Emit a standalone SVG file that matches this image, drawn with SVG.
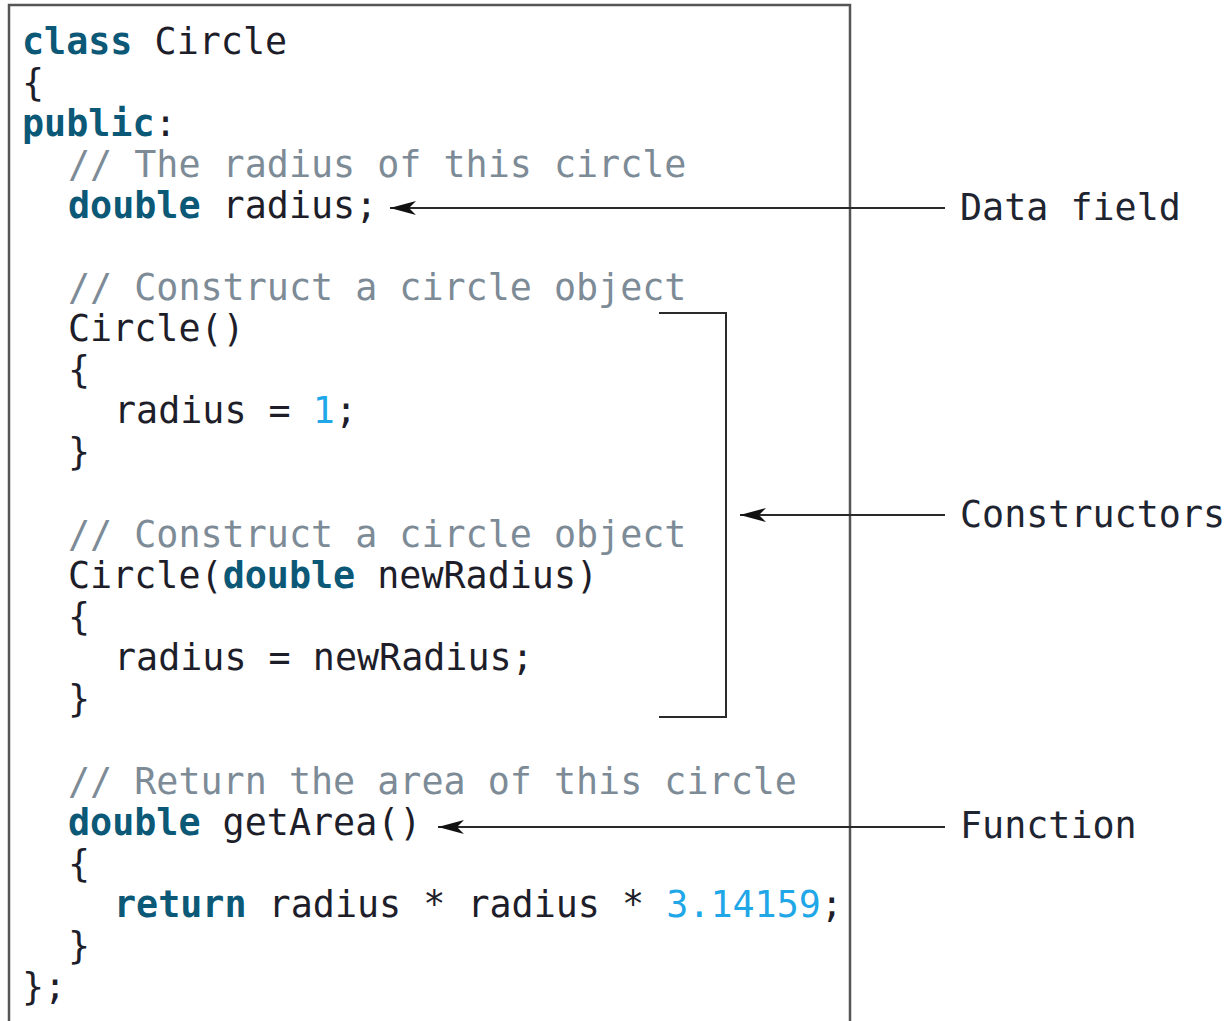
<svg xmlns="http://www.w3.org/2000/svg" width="1229" height="1021" viewBox="0 0 1229 1021">
<style>
  .code { font-family: "DejaVu Sans Mono", "Liberation Mono", monospace; font-size: 36.7px; fill: #1e1e2a; }
  .kw { font-weight: bold; fill: #0b5877; }
  .cm { fill: #7d8b97; }
  .num { fill: #1fa7e8; }
  .lbl { font-family: "DejaVu Sans Mono", "Liberation Mono", monospace; font-size: 36.7px; fill: #1e2430; }
  .conn { stroke: #2a2a2a; stroke-width: 2; fill: none; }
  .box { stroke: #555; stroke-width: 2.5; fill: #fff; }
</style>
<defs>
  <marker id="arr" markerUnits="userSpaceOnUse" markerWidth="30" markerHeight="20" viewBox="-1 -10 30 20" refX="26" refY="0" orient="auto">
    <path d="M0,-7 L26,0 L0,7 L7,0 Z" fill="#111"/>
  </marker>
</defs>
<rect width="1229" height="1021" fill="#fff"/>
<g id="class-box">
  <path class="box" d="M9,1030 L9,5 L850,5 L850,1030"/>
  <g class="code" xml:space="preserve">
    <text x="22" y="54"><tspan class="kw">class</tspan> Circle</text>
    <text x="22" y="95">{</text>
    <text x="22" y="136"><tspan class="kw">public</tspan>:</text>
    <text x="68" y="177" class="cm">// The radius of this circle</text>
    <text x="68" y="218"><tspan class="kw">double</tspan> radius;</text>
    <text x="68" y="300" class="cm">// Construct a circle object</text>
    <text x="68" y="341">Circle()</text>
    <text x="68" y="382">{</text>
    <text x="114" y="423">radius = <tspan class="num">1</tspan>;</text>
    <text x="68" y="464">}</text>
    <text x="68" y="547" class="cm">// Construct a circle object</text>
    <text x="68" y="588">Circle(<tspan class="kw">double</tspan> newRadius)</text>
    <text x="68" y="629">{</text>
    <text x="114" y="670">radius = newRadius;</text>
    <text x="68" y="711">}</text>
    <text x="68" y="794" class="cm">// Return the area of this circle</text>
    <text x="68" y="835"><tspan class="kw">double</tspan> getArea()</text>
    <text x="68" y="876">{</text>
    <text x="114" y="917"><tspan class="kw">return</tspan> radius * radius * <tspan class="num">3.14159</tspan>;</text>
    <text x="68" y="958">}</text>
    <text x="22" y="999">};</text>
  </g>
</g>
<g id="label-data-field"><text class="lbl" x="960" y="220">Data field</text></g>
<g id="label-constructors"><text class="lbl" x="960" y="527">Constructors</text></g>
<g id="label-function"><text class="lbl" x="960" y="838">Function</text></g>
<g id="connectors">
  <line class="conn" x1="945" y1="208" x2="390" y2="208" marker-end="url(#arr)"/>
  <path class="conn" d="M659,313 L726,313 L726,717 L659,717"/>
  <line class="conn" x1="945" y1="515" x2="740" y2="515" marker-end="url(#arr)"/>
  <line class="conn" x1="945" y1="827" x2="438" y2="827" marker-end="url(#arr)"/>
</g>
</svg>
